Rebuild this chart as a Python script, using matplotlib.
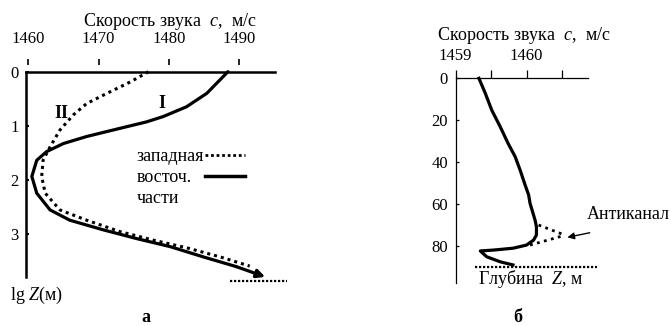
import matplotlib
matplotlib.use('Agg')
import matplotlib.pyplot as plt
import matplotlib.ticker as mticker
from matplotlib.lines import Line2D

plt.rcParams['font.family'] = ['Liberation Serif', 'DejaVu Serif']
plt.rcParams['mathtext.fontset'] = 'custom'
plt.rcParams['mathtext.rm'] = 'Liberation Serif'
plt.rcParams['mathtext.it'] = 'Liberation Serif:italic'
plt.rcParams['mathtext.bf'] = 'Liberation Serif:bold'

# ---------------- Panel "а": lg Z vs sound speed ----------------
curve_I_speed = [1488.4, 1485.4, 1482.5, 1479.2, 1476.8, 1473.0, 1468.3, 1465.0,
                 1462.6, 1461.2, 1460.5, 1461.2, 1463.1, 1465.9, 1470.7, 1475.4,
                 1480.2, 1484.9, 1489.6, 1493.7]
curve_I_lgz = [0.0, 0.40, 0.65, 0.83, 0.93, 1.05, 1.20, 1.33,
               1.48, 1.64, 1.94, 2.25, 2.56, 2.75, 2.93, 3.09,
               3.24, 3.43, 3.61, 3.80]
curve_II_speed = [1477.1, 1474.5, 1471.2, 1468.3, 1466.4, 1464.5, 1463.1, 1462.1,
                  1461.9, 1462.4, 1464.5, 1468.3, 1473.0, 1477.8, 1482.5, 1487.3,
                  1491.5]
curve_II_lgz = [0.0, 0.19, 0.40, 0.59, 0.80, 1.08, 1.39, 1.64,
                1.94, 2.25, 2.56, 2.75, 2.96, 3.12, 3.26, 3.43,
                3.60]
seabed_a_speed = [1488.7, 1496.8]
seabed_a_lgz = [3.87, 3.87]
ticks_a_x = [1460, 1470, 1480, 1490]
ticks_a_y = [0, 1, 2, 3]
legend_labels = ['западная', 'восточ.', 'части']

# ---------------- Panel "б": depth vs sound speed ----------------
profile_speed = [1459.33, 1459.42, 1459.51, 1459.63, 1459.74, 1459.84, 1459.91,
                 1459.98, 1460.03, 1460.05, 1460.12, 1460.14, 1460.14, 1460.10,
                 1460.00, 1459.81, 1459.53, 1459.35, 1459.44, 1459.63, 1459.81]
profile_depth = [0, 7.2, 15.2, 23.2, 31.1, 37.5, 43.9,
                 51.0, 55.8, 59.8, 67.8, 71.0, 75.0, 77.4,
                 79.8, 81.3, 82.2, 82.6, 85.4, 87.8, 89.3]
anti_upper_speed = [1460.17, 1460.50]
anti_upper_depth = [70.2, 74.5]
anti_lower_speed = [1460.05, 1460.50]
anti_lower_depth = [79.8, 75.5]
arrow_tail = (1460.89, 73.9)
arrow_head = (1460.575, 76.1)
seabed_b_speed = [1459.27, 1460.99]
seabed_b_depth = [90.1, 90.1]
ticks_b_x = [1459.0, 1459.5, 1460.0, 1460.5]
ticks_b_y = [0, 20, 40, 60, 80]

W, H = 671, 326
fig = plt.figure(figsize=(W / 100, H / 100), dpi=100)
FS = 12      # tick labels
TFS = 13     # other texts

def frac_box(x0, x1, y0, y1):
    return [x0 / W, 1 - y1 / H, (x1 - x0) / W, (y1 - y0) / H]

# ---- panel а ----
axa = fig.add_axes(frac_box(26, 291.9, 71.7, 285.0))
axa.set_xlim(1459.67, 1497.5)
axa.set_ylim(3.95, 0)
axa.plot(curve_I_speed[:-1], curve_I_lgz[:-1], color='black', lw=2.3,
         solid_capstyle='round', clip_on=False)
axa.annotate('', xy=(curve_I_speed[-1], curve_I_lgz[-1]),
             xytext=(curve_I_speed[-2], curve_I_lgz[-2]),
             arrowprops=dict(arrowstyle='-|>', lw=2.3, color='black',
                             mutation_scale=12, shrinkA=0, shrinkB=0))
axa.plot(curve_II_speed, curve_II_lgz, color='black', lw=2.2,
         linestyle=(0, (1, 1.3)), clip_on=False)
axa.plot(seabed_a_speed, seabed_a_lgz, color='black', lw=1.6,
         linestyle=(0, (1, 0.8)), clip_on=False)

for s in ['right', 'bottom']:
    axa.spines[s].set_visible(False)
axa.spines['left'].set_linewidth(1.8)
axa.spines['left'].set_bounds(0, 3.80)
axa.spines['top'].set_visible(False)
axa.spines['top'].set_position(('outward', 5))
axa.axhline(0, xmin=0, xmax=(1495.1 - 1459.67) / (1497.5 - 1459.67),
            color='black', lw=1.8, clip_on=False)
axa.xaxis.tick_top()
axa.set_xticks(ticks_a_x)
axa.set_xticklabels([str(t) for t in ticks_a_x])
axa.tick_params(axis='x', direction='out', length=4.3, width=1.2, pad=8.5,
                labelsize=FS)
axa.set_yticks(ticks_a_y)
axa.set_yticklabels([str(t) for t in ticks_a_y])
axa.tick_params(axis='y', direction='in', length=2.5, width=1.5, pad=5.5,
                labelsize=FS)
axa.text(1479.0, 0.585, 'I', fontsize=13, fontweight='bold', ha='center',
         va='center')
axa.text(1464.75, 0.77, 'II', fontsize=13, fontweight='bold', ha='center',
         va='center')

# legend: text column and sample column
blank = [Line2D([], [], color='none') for _ in legend_labels]
leg_txt = axa.legend(blank, legend_labels, loc='upper left',
                     bbox_to_anchor=(137 / W, 1 - 148.5 / H),
                     bbox_transform=fig.transFigure, frameon=False,
                     fontsize=TFS, borderpad=0, borderaxespad=0,
                     labelspacing=0.22, handlelength=0, handletextpad=0)
axa.add_artist(leg_txt)
samples = [Line2D([], [], color='black', lw=2.0, linestyle=(0, (1, 1))),
           Line2D([], [], color='black', lw=2.5),
           Line2D([], [], color='none')]
axa.legend(samples, ['', '', ''], loc='upper left',
           bbox_to_anchor=(205 / W, 1 - 148.5 / H),
           bbox_transform=fig.transFigure, frameon=False,
           fontsize=TFS, borderpad=0, borderaxespad=0,
           labelspacing=0.22, handlelength=2.2, handletextpad=0)

fig.text(170 / W, 1 - 22 / H, 'Скорость звука  $c$,  м/с', ha='center',
         va='center', fontsize=TFS)
fig.text(10 / W, 1 - 295 / H, 'lg $Z$(м)', ha='left', va='center', fontsize=TFS)
fig.text(146 / W, 1 - 318 / H, 'а', ha='center', va='center', fontsize=TFS,
         fontweight='bold')

# ---- panel б ----
axb = fig.add_axes(frac_box(455.5, 597.5, 78.3, 287.3))
axb.set_xlim(1459.0, 1461.0)
axb.set_ylim(100, 0)
axb.plot(profile_speed, profile_depth, color='black', lw=2.3, clip_on=False,
         solid_joinstyle='round')
axb.plot(anti_upper_speed, anti_upper_depth, color='black', lw=2.0,
         linestyle=(0, (1, 1.6)), clip_on=False)
axb.plot(anti_lower_speed, anti_lower_depth, color='black', lw=2.0,
         linestyle=(0, (1, 1.6)), clip_on=False)
axb.plot(seabed_b_speed, seabed_b_depth, color='black', lw=1.6,
         linestyle=(0, (1, 0.8)), clip_on=False)
axb.annotate('', xy=arrow_head, xytext=arrow_tail,
             arrowprops=dict(arrowstyle='-|>', lw=1.0, color='black',
                             mutation_scale=10, shrinkA=0, shrinkB=0))
for s in ['right', 'bottom']:
    axb.spines[s].set_visible(False)
axb.spines['left'].set_bounds(0, 97.8)
axb.spines['top'].set_bounds(1459.0, 1460.87)
axb.spines['left'].set_linewidth(0.9)
axb.spines['top'].set_linewidth(0.9)
axb.xaxis.tick_top()
axb.set_xticks(ticks_b_x)
axb.xaxis.set_major_formatter(
    mticker.FuncFormatter(lambda v, p: f'{v:.0f}' if abs(v - round(v)) < 1e-6 else ''))
axb.tick_params(axis='x', direction='out', length=5.8, width=0.9, pad=4.5,
                labelsize=FS)
axb.set_yticks(ticks_b_y)
axb.tick_params(axis='y', direction='in', length=2.5, width=0.9, pad=5.5,
                labelsize=FS)
axb.text(1461.43, 65.4, 'Антиканал', ha='center', va='center', fontsize=TFS,
         clip_on=False)

fig.text(524 / W, 1 - 36 / H, 'Скорость звука  $c$,  м/с', ha='center',
         va='center', fontsize=TFS)
fig.text(531 / W, 1 - 279.5 / H, 'Глубина  $Z$, м', ha='center', va='center',
         fontsize=TFS)
fig.text(518 / W, 1 - 318 / H, 'б', ha='center', va='center', fontsize=TFS,
         fontweight='bold')

fig.savefig('out.png', dpi=100)
